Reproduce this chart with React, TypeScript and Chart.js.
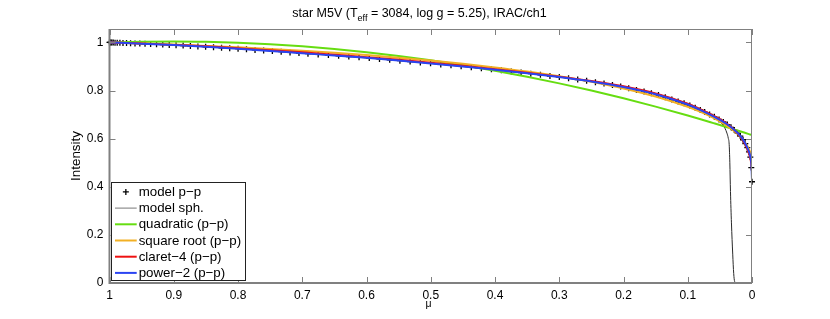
import React, { useEffect, useRef } from "react";
import { Chart, registerables } from "chart.js";

Chart.register(...registerables);

// ---------- data ----------
const X_TICKS = [0, 0.1, 0.2, 0.3, 0.4, 0.5, 0.6, 0.7, 0.8, 0.9, 1];
const Y_TICKS = [0, 0.2, 0.4, 0.6, 0.8, 1];

const TITLE_MAIN = "star M5V (T";
const TITLE_SUB = "eff";
const TITLE_REST = " = 3084, log g = 5.25), IRAC/ch1";
const X_LABEL = "μ";
const Y_LABEL = "Intensity";

const LEGEND_LABELS = [
  "model p\u2212p",
  "model sph.",
  "quadratic (p\u2212p)",
  "square root (p\u2212p)",
  "claret\u22124 (p\u2212p)",
  "power\u22122 (p\u2212p)",
];

// model p-p (crosses)
const MU_MODEL = [
  1.0, 0.9992, 0.998, 0.9964, 0.9942, 0.9914, 0.988, 0.9838, 0.979, 0.9735,
  0.9672, 0.9603, 0.9528, 0.9447, 0.936, 0.9268, 0.9171, 0.907, 0.8964, 0.8854,
  0.8741, 0.8624, 0.8504, 0.8381, 0.8256, 0.8129, 0.7999, 0.7868, 0.7735, 0.7601,
  0.7465, 0.7328, 0.719, 0.7051, 0.6911, 0.6752, 0.6593, 0.6434, 0.6275, 0.6116,
  0.5957, 0.5798, 0.5639, 0.548, 0.5321, 0.5162, 0.5003, 0.4844, 0.4685, 0.4527,
  0.4369, 0.4212, 0.4056, 0.3901, 0.3747, 0.3594, 0.3443, 0.3293, 0.3145, 0.2999,
  0.2855, 0.2713, 0.2574, 0.2437, 0.2303, 0.2172, 0.2044, 0.1919, 0.1798, 0.168,
  0.1566, 0.1456, 0.135, 0.1248, 0.115, 0.1057, 0.0968, 0.0884, 0.0805, 0.0737,
  0.066, 0.0586, 0.0513, 0.0446, 0.0384, 0.0327, 0.0275, 0.0224, 0.0182, 0.014,
  0.0104, 0.0073, 0.0047, 0.0026, 0.0011, 0.0,
];
const I_MODEL = [
  1.0, 1.0, 0.9998, 0.9996, 0.9994, 0.9991, 0.9988, 0.9984, 0.9979, 0.9974,
  0.9967, 0.996, 0.9953, 0.9944, 0.9933, 0.9922, 0.9911, 0.9898, 0.9885, 0.987,
  0.9854, 0.9837, 0.9821, 0.9801, 0.9781, 0.9761, 0.974, 0.9716, 0.9692, 0.9668,
  0.9643, 0.9616, 0.9588, 0.956, 0.9534, 0.9505, 0.9477, 0.9447, 0.9415, 0.9383,
  0.9351, 0.9316, 0.9281, 0.9245, 0.9207, 0.9169, 0.9131, 0.9089, 0.9048, 0.9007,
  0.8966, 0.8925, 0.8885, 0.884, 0.8794, 0.8748, 0.8702, 0.8654, 0.8606, 0.856,
  0.8508, 0.8457, 0.8407, 0.8351, 0.8289, 0.8229, 0.817, 0.8101, 0.8029, 0.7958,
  0.789, 0.7812, 0.7721, 0.7633, 0.7549, 0.7469, 0.7383, 0.7287, 0.7196, 0.7108,
  0.7008, 0.6909, 0.68, 0.6694, 0.6588, 0.6474, 0.6358, 0.623, 0.6109, 0.5956,
  0.5798, 0.5625, 0.545, 0.5236, 0.48, 0.421,
];

// model spherical (thin black line)
const MU_SPH = [
  1.0, 0.95, 0.9, 0.85, 0.8, 0.75, 0.7, 0.65, 0.6, 0.55, 0.5, 0.45, 0.4, 0.35,
  0.3, 0.25, 0.2, 0.15, 0.1, 0.08, 0.06, 0.05, 0.045, 0.042, 0.039, 0.037,
  0.0355, 0.0345, 0.0335, 0.032, 0.03, 0.0285, 0.027, 0.025, 0.0,
];
const I_SPH = [
  1.0, 0.995, 0.989, 0.982, 0.974, 0.965, 0.955, 0.946, 0.936, 0.925, 0.913,
  0.9, 0.887, 0.872, 0.856, 0.838, 0.815, 0.784, 0.738, 0.714, 0.688, 0.67,
  0.657, 0.643, 0.623, 0.603, 0.575, 0.5, 0.38, 0.25, 0.12, 0.04, 0.006, 0.0, 0.0,
];

// fitted laws, sampled on a common μ grid
const MU_FIT = [
  1.0, 0.95, 0.9, 0.85, 0.8, 0.75, 0.7, 0.65, 0.6, 0.55, 0.5, 0.45, 0.4, 0.35,
  0.3, 0.25, 0.2, 0.15, 0.1, 0.08, 0.06, 0.05, 0.04, 0.03, 0.02, 0.015, 0.01,
  0.006, 0.003, 0.001, 0.0,
];
const I_QUAD = [
  1.0, 1.0033, 1.0042, 1.0027, 0.9988, 0.9926, 0.984, 0.9731, 0.9598, 0.9441,
  0.926, 0.9056, 0.8828, 0.8576, 0.83, 0.8001, 0.7678, 0.7332, 0.6962, 0.6807,
  0.6648, 0.6568, 0.6486, 0.6403, 0.632, 0.6278, 0.6235, 0.6201, 0.6176, 0.6158,
  0.615,
];
const I_SQRT = [
  1.0, 0.9959, 0.9911, 0.9858, 0.9798, 0.973, 0.9655, 0.957, 0.9475, 0.9369,
  0.925, 0.9116, 0.8964, 0.8792, 0.8593, 0.8363, 0.8089, 0.7755, 0.7327, 0.7114,
  0.6863, 0.6717, 0.6552, 0.636, 0.6126, 0.5983, 0.5811, 0.5634, 0.5453, 0.5264,
  0.5,
];
const I_CLARET = [
  1.0, 0.996, 0.99, 0.984, 0.976, 0.968, 0.959, 0.949, 0.939, 0.928, 0.916,
  0.903, 0.889, 0.874, 0.858, 0.84, 0.818, 0.788, 0.745, 0.722, 0.696, 0.681,
  0.664, 0.643, 0.615, 0.597, 0.573, 0.548, 0.522, 0.495, 0.465,
];
const I_POWER2 = [
  1.0, 0.995, 0.989, 0.982, 0.974, 0.965, 0.955, 0.946, 0.936, 0.925, 0.913,
  0.9, 0.887, 0.872, 0.856, 0.838, 0.815, 0.785, 0.742, 0.719, 0.693, 0.678,
  0.662, 0.642, 0.617, 0.6, 0.578, 0.555, 0.53, 0.495, 0.43,
];

// ---------- styles ----------
const FONT = "'Liberation Sans', Arial, Helvetica, sans-serif";
const AXIS_COLOR = "#808080";
const C_MODEL = "#000000";
const C_SPH = "#2a2a2a";
const C_QUAD = "#66dd11";
const C_SQRT = "#f2b024";
const C_CLARET = "#ee1111";
const C_POWER2 = "#2b44f2";

const pts = (mu: number[], v: number[]) => mu.map((m, i) => ({ x: m, y: v[i] }));

const decorPlugin = {
  id: "decor",
  afterDraw(chart: any) {
    const { ctx, chartArea: a, scales } = chart;
    const xs = scales.x;
    const ys = scales.y;
    ctx.save();

    // frame
    ctx.strokeStyle = AXIS_COLOR;
    ctx.lineWidth = 1;
    ctx.beginPath();
    ctx.moveTo(a.left, a.top + 0.5);
    ctx.lineTo(a.right, a.top + 0.5);
    ctx.moveTo(a.right - 0.5, a.top);
    ctx.lineTo(a.right - 0.5, a.bottom);
    ctx.stroke();
    ctx.lineWidth = 2;
    ctx.beginPath();
    ctx.moveTo(a.left, a.bottom);
    ctx.lineTo(a.right, a.bottom);
    ctx.moveTo(a.left, a.top);
    ctx.lineTo(a.left, a.bottom + 1);
    ctx.stroke();

    // inward tick marks
    const TL = 6;
    ctx.lineWidth = 1;
    ctx.beginPath();
    X_TICKS.forEach((v) => {
      const px = Math.round(xs.getPixelForValue(v)) + 0.5;
      ctx.moveTo(px, a.bottom);
      ctx.lineTo(px, a.bottom - TL);
      ctx.moveTo(px, a.top);
      ctx.lineTo(px, a.top + TL);
    });
    Y_TICKS.forEach((v) => {
      const py = Math.round(ys.getPixelForValue(v)) + 0.5;
      ctx.moveTo(a.left, py);
      ctx.lineTo(a.left + TL, py);
      ctx.moveTo(a.right, py);
      ctx.lineTo(a.right - TL, py);
    });
    ctx.stroke();

    // title with subscript
    ctx.fillStyle = "#000";
    ctx.textBaseline = "alphabetic";
    ctx.textAlign = "left";
    const fMain = `12.5px ${FONT}`;
    const fSub = `9px ${FONT}`;
    ctx.font = fMain;
    const w1 = ctx.measureText(TITLE_MAIN).width;
    const w3 = ctx.measureText(TITLE_REST).width;
    ctx.font = fSub;
    const w2 = ctx.measureText(TITLE_SUB).width;
    const total = w1 + w2 + w3;
    let tx = 419.5 - total / 2;
    ctx.font = fMain;
    ctx.fillText(TITLE_MAIN, tx, 17.3);
    tx += w1;
    ctx.font = fSub;
    ctx.fillText(TITLE_SUB, tx, 20.8);
    tx += w2;
    ctx.font = fMain;
    ctx.fillText(TITLE_REST, tx, 17.3);

    // axis labels
    ctx.font = `10.5px ${FONT}`;
    ctx.textAlign = "center";
    ctx.fillText(X_LABEL, 428.5, 307);
    ctx.save();
    ctx.translate(76.7, (a.top + a.bottom) / 2);
    ctx.rotate(-Math.PI / 2);
    ctx.textBaseline = "middle";
    ctx.font = `13.4px ${FONT}`;
    ctx.fillText(Y_LABEL, 0, 0);
    ctx.restore();

    // legend
    const bx = a.left + 1.2;
    const by = a.bottom - 101.3;
    const bw = 133.6;
    const bh = 98.3;
    ctx.fillStyle = "#fff";
    ctx.fillRect(bx, by, bw, bh);
    ctx.strokeStyle = "#222";
    ctx.lineWidth = 1;
    ctx.strokeRect(Math.round(bx) + 0.5, Math.round(by) + 0.5, Math.round(bw), Math.round(bh));
    const colors = [C_MODEL, "#777777", C_QUAD, C_SQRT, C_CLARET, C_POWER2];
    const lx0 = a.left + 5.5;
    const lx1 = a.left + 27.2;
    ctx.font = `13.3px ${FONT}`;
    ctx.textAlign = "left";
    ctx.textBaseline = "middle";
    LEGEND_LABELS.forEach((label, i) => {
      const cy = by + 10.2 + i * 16.2;
      if (i === 0) {
        const cx = (lx0 + lx1) / 2;
        ctx.strokeStyle = C_MODEL;
        ctx.lineWidth = 1.3;
        ctx.beginPath();
        ctx.moveTo(cx - 3, cy);
        ctx.lineTo(cx + 3, cy);
        ctx.moveTo(cx, cy - 3);
        ctx.lineTo(cx, cy + 3);
        ctx.stroke();
      } else {
        ctx.strokeStyle = colors[i];
        ctx.lineWidth = i === 1 ? 1 : 2;
        ctx.beginPath();
        ctx.moveTo(lx0, cy);
        ctx.lineTo(lx1, cy);
        ctx.stroke();
      }
      ctx.fillStyle = "#000";
      ctx.fillText(label, a.left + 29.2, cy + 0.5);
    });

    ctx.restore();
  },
};

export default function App() {
  const ref = useRef<HTMLCanvasElement | null>(null);

  useEffect(() => {
    document.body.style.margin = "0";
    const canvas = ref.current;
    if (!canvas) return;

    const lineDs = (label: string, data: any[], color: string, width: number, order: number) => ({
      label,
      data,
      showLine: true,
      borderColor: color,
      backgroundColor: color,
      borderWidth: width,
      pointRadius: 0,
      pointHoverRadius: 0,
      cubicInterpolationMode: "monotone",
      order,
    });

    const chart = new Chart(canvas, {
      type: "scatter",
      data: {
        datasets: [
          {
            label: LEGEND_LABELS[0],
            data: pts(MU_MODEL, I_MODEL),
            showLine: false,
            pointStyle: "cross",
            pointRadius: 3,
            pointBorderWidth: 1.3,
            borderColor: C_MODEL,
            backgroundColor: C_MODEL,
            clip: false,
            order: 6,
          } as any,
          lineDs(LEGEND_LABELS[1], pts(MU_SPH, I_SPH), C_SPH, 1, 5),
          lineDs(LEGEND_LABELS[2], pts(MU_FIT, I_QUAD), C_QUAD, 2, 4),
          lineDs(LEGEND_LABELS[3], pts(MU_FIT, I_SQRT), C_SQRT, 2, 3),
          lineDs(LEGEND_LABELS[4], pts(MU_FIT, I_CLARET), C_CLARET, 2, 2),
          lineDs(LEGEND_LABELS[5], pts(MU_FIT, I_POWER2), C_POWER2, 2, 1),
        ] as any,
      },
      options: {
        responsive: false,
        animation: false,
        devicePixelRatio: 1,
        layout: { padding: { top: 29, right: 78, left: 0, bottom: 0 } },
        plugins: {
          legend: { display: false },
          title: { display: false },
          tooltip: { enabled: false },
        },
        events: [],
        scales: {
          x: {
            type: "linear",
            min: 0,
            max: 1,
            reverse: true,
            grid: { display: false, drawTicks: false },
            border: { display: false },
            ticks: {
              color: "#000",
              font: { family: FONT, size: 12 },
              padding: 5,
              maxRotation: 0,
              autoSkip: false,
              callback: (v: any) => String(v),
            },
            afterBuildTicks: (s: any) => {
              s.ticks = X_TICKS.map((v) => ({ value: v }));
            },
            afterFit: (s: any) => {
              s.height = 36;
            },
          },
          y: {
            type: "linear",
            min: 0,
            max: 1.056,
            grid: { display: false, drawTicks: false },
            border: { display: false },
            ticks: {
              color: "#000",
              font: { family: FONT, size: 12 },
              padding: 6,
              autoSkip: false,
              callback: (v: any) => String(v),
            },
            afterBuildTicks: (s: any) => {
              s.ticks = Y_TICKS.map((v) => ({ value: v }));
            },
            afterFit: (s: any) => {
              s.width = 109.5;
            },
          },
        },
      } as any,
      plugins: [decorPlugin],
    });

    return () => chart.destroy();
  }, []);

  return (
    <div style={{ width: 830, height: 319, background: "#fff", position: "relative" }}>
      <canvas ref={ref} width={830} height={319} style={{ display: "block", width: 830, height: 319 }} />
    </div>
  );
}
